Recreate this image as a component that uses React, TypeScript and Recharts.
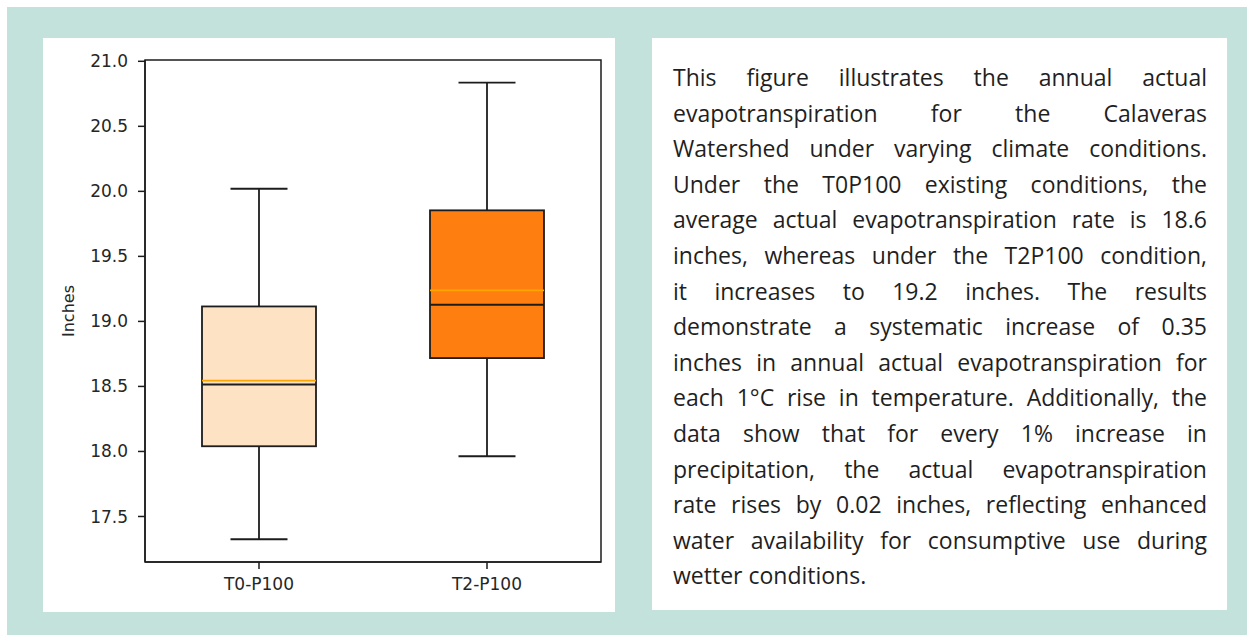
import React from "react";
import { ComposedChart, Bar, XAxis, YAxis, ReferenceArea, Label } from "recharts";

// Annual actual evapotranspiration, Calaveras Watershed (inches)
const scenarios = ["T0-P100", "T2-P100"];
const whiskerLow = [17.325, 17.963];
const lowerQuartile = [18.04, 18.718];
const medians = [18.515, 19.128];
const means = [18.544, 19.238];
const upperQuartile = [19.115, 19.854];
const whiskerHigh = [20.02, 20.836];
const boxFills = ["#fde3c4", "#fe7f0f"];

const yTicks = [17.5, 18.0, 18.5, 19.0, 19.5, 20.0, 20.5, 21.0];
const yDomain: [number, number] = [17.15, 21.01];

const paragraph = [
  "This figure illustrates the annual actual",
  "evapotranspiration for the Calaveras",
  "Watershed under varying climate conditions.",
  "Under the T0P100 existing conditions, the",
  "average actual evapotranspiration rate is 18.6",
  "inches, whereas under the T2P100 condition,",
  "it increases to 19.2 inches. The results",
  "demonstrate a systematic increase of 0.35",
  "inches in annual actual evapotranspiration for",
  "each 1°C rise in temperature. Additionally, the",
  "data show that for every 1% increase in",
  "precipitation, the actual evapotranspiration",
  "rate rises by 0.02 inches, reflecting enhanced",
  "water availability for consumptive use during",
  "wetter conditions.",
];

const rows = scenarios.map((name, i) => ({
  name,
  range: [whiskerLow[i], whiskerHigh[i]],
  q1: lowerQuartile[i],
  median: medians[i],
  mean: means[i],
  q3: upperQuartile[i],
  fill: boxFills[i],
}));

const INK = "#1c1c1c";

// The bar spans whisker to whisker; inner levels are placed on the same scale.
function BoxShape(props: any) {
  const { x, y, width, height, payload } = props;
  const [lo, hi] = payload.range;
  const top = Math.min(y, y + height);
  const bottom = Math.max(y, y + height);
  const at = (v: number) => bottom - ((v - lo) / (hi - lo)) * (bottom - top);
  const cx = x + width / 2;
  const cap = width / 4;
  const yq1 = at(payload.q1);
  const yq3 = at(payload.q3);
  return (
    <g>
      <line x1={cx} x2={cx} y1={top} y2={yq3} stroke={INK} strokeWidth={1.8} />
      <line x1={cx} x2={cx} y1={yq1} y2={bottom} stroke={INK} strokeWidth={1.8} />
      <line x1={cx - cap} x2={cx + cap} y1={top} y2={top} stroke={INK} strokeWidth={1.8} />
      <line x1={cx - cap} x2={cx + cap} y1={bottom} y2={bottom} stroke={INK} strokeWidth={1.8} />
      <rect x={x} y={yq3} width={width} height={yq1 - yq3} fill={payload.fill} stroke={INK} strokeWidth={1.8} />
      <line x1={x} x2={x + width} y1={at(payload.mean)} y2={at(payload.mean)} stroke="#ffa500" strokeWidth={1.8} />
      <line x1={x} x2={x + width} y1={at(payload.median)} y2={at(payload.median)} stroke={INK} strokeWidth={1.8} />
    </g>
  );
}

const tickStyle = { fontFamily: "DejaVu Sans", fontSize: 17, fill: "#262626" };

export default function App() {
  return (
    <div style={{ position: "absolute", left: 0, top: 0, width: 1247, height: 635, background: "#fff" }}>
      <div style={{ position: "absolute", left: 7, top: 7, width: 1240, height: 628, background: "#c3e2dc" }} />
      <div style={{ position: "absolute", left: 43, top: 38, width: 572, height: 574, background: "#fff" }}>
        <ComposedChart
          width={572}
          height={574}
          data={rows}
          margin={{ top: 22, right: 14, bottom: 20, left: 42 }}
        >
          <XAxis
            dataKey="name"
            type="category"
            height={30}
            stroke={INK}
            strokeWidth={1.5}
            tickSize={7}
            tickMargin={9}
            tick={tickStyle}
          />
          <YAxis
            type="number"
            domain={yDomain}
            ticks={yTicks}
            width={60}
            stroke={INK}
            strokeWidth={1.5}
            tickSize={7}
            tickMargin={10}
            tick={tickStyle}
            tickFormatter={(v: number) => v.toFixed(1)}
          >
            <Label
              content={({ viewBox }: any) => {
                const lx = viewBox.x - 17;
                const ly = viewBox.y + viewBox.height / 2;
                return (
                  <text
                    x={lx}
                    y={ly}
                    transform={`rotate(-90, ${lx}, ${ly})`}
                    textAnchor="middle"
                    dominantBaseline="central"
                    style={{ fontFamily: "DejaVu Sans", fontSize: 16, fill: "#262626" }}
                  >
                    Inches
                  </text>
                );
              }}
            />
          </YAxis>
          <ReferenceArea y1={yDomain[0]} y2={yDomain[1]} fill="none" stroke={INK} strokeWidth={1.5} />
          <Bar dataKey="range" barSize={114} shape={BoxShape} isAnimationActive={false} />
        </ComposedChart>
      </div>
      <div style={{ position: "absolute", left: 652, top: 38, width: 575, height: 572, background: "#fff" }}>
        <div
          style={{
            position: "absolute",
            left: 21,
            top: 22,
            width: 534,
            fontFamily: "'Open Sans', sans-serif",
            fontSize: 23,
            lineHeight: "35.6px",
            color: "#1f1f1f",
          }}
        >
          {paragraph.map((line, i) =>
            i < paragraph.length - 1 ? (
              <div key={i} style={{ display: "flex", justifyContent: "space-between", whiteSpace: "nowrap" }}>
                {line.split(" ").map((w, j) => (
                  <span key={j}>{w}</span>
                ))}
              </div>
            ) : (
              <div key={i} style={{ whiteSpace: "nowrap" }}>{line}</div>
            )
          )}
        </div>
      </div>
    </div>
  );
}
